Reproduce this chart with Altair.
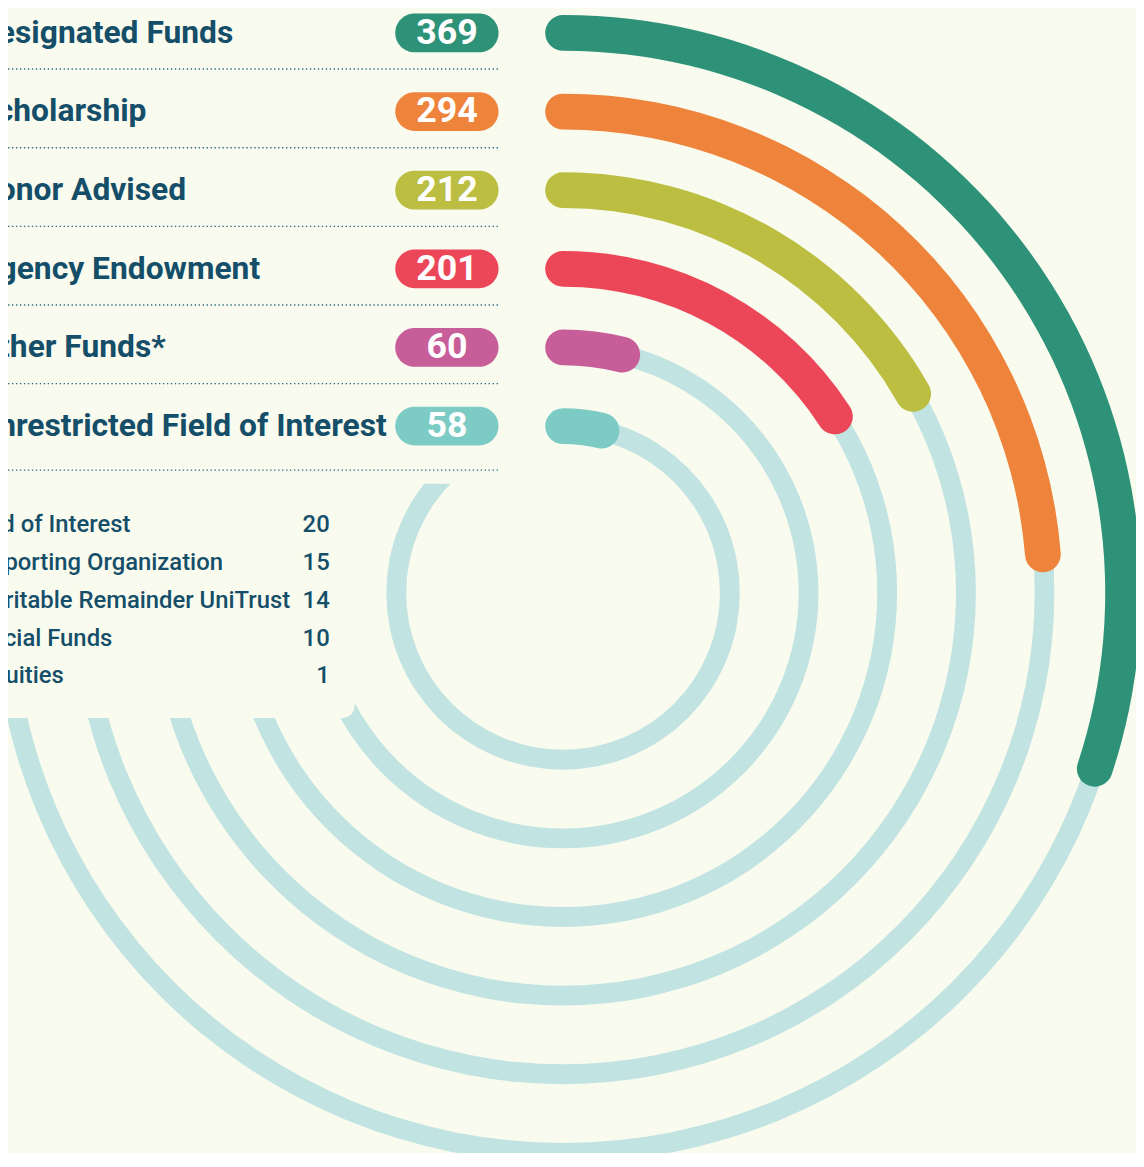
import math
import altair as alt
import pandas as pd

# ---------------- data (inner ring -> outer ring) ----------------
categories = ["Unrestricted Field of Interest", "Other Funds*", "Agency Endowment",
              "Donor Advised", "Scholarship", "Designated Funds"]
values = [58, 60, 201, 212, 294, 369]
bar_colors = ["#7DCBC5", "#C75E9A", "#EC4659", "#BBBE41", "#EE843B", "#2E9278"]

other_names = ["Field of Interest", "Supporting Organization",
               "Charitable Remainder UniTrust", "Special Funds", "Annuities"]
other_values = [20, 15, 14, 10, 1]

# ---------------- styling / layout constants ----------------
BG = "#F9FBEF"
TRACK = "#C1E3E1"
TEXT = "#154E69"
W, H = 1136, 1145
CX, CY = 559, 585            # centre of the rings
R0, STEP = 168, 79.2         # radius of innermost ring, ring spacing
BAR_HALF, TRACK_HALF = 18, 10
T_MIN, T_MAX = 14.25, 1193.45  # theta scale domain (one full turn)
K = (T_MAX - T_MIN) / (2 * math.pi)

theta_scale = alt.Scale(type="linear", domain=[T_MIN, T_MAX], range=[0, 2 * math.pi])
radius_scale = alt.Scale(type="linear", zero=False, domain=[0, 5], range=[R0, R0 + 5 * STEP])
row_scale = alt.Scale(type="linear", zero=False, domain=[0, 5], range=[CY - R0, CY - R0 - 5 * STEP])
sub_scale = alt.Scale(type="linear", zero=False, domain=[0, 4], range=[517, 669])

rows = []
for i, (c, v, col) in enumerate(zip(categories, values, bar_colors)):
    r = R0 + STEP * i
    cap = BAR_HALF / r * K
    rows.append({
        "rank": i, "category": c, "value": v, "color": col,
        "t0": T_MIN - cap, "t1": v + cap,
        "r_out": i + BAR_HALF / STEP, "r_in": i - BAR_HALF / STEP,
        "tr_out": i + TRACK_HALF / STEP, "tr_in": i - TRACK_HALF / STEP,
        "track_t0": T_MIN, "track_t1": T_MAX,
        "p_top": i + 19.5 / STEP, "p_bot": i - 19.5 / STEP,
        "div": i - (0.56 if i == 0 else 0.46),
    })
df = pd.DataFrame(rows)
sub = pd.DataFrame({"j": list(range(len(other_names))), "name": other_names, "val": other_values})
one = pd.DataFrame({"k": [0]})

center = dict(x=alt.value(CX), y=alt.value(CY))

tracks = alt.Chart(df).mark_arc(color=TRACK).encode(
    theta=alt.Theta("track_t0:Q", scale=theta_scale, stack=False),
    theta2="track_t1:Q",
    radius=alt.Radius("tr_out:Q", scale=radius_scale),
    radius2="tr_in:Q",
    **center,
)

cover_a = alt.Chart(one).mark_rect(color=BG).encode(
    x=alt.value(-8), x2=alt.value(CX), y=alt.value(-8), y2=alt.value(475))
cover_b = alt.Chart(one).mark_rect(color=BG, cornerRadius=12).encode(
    x=alt.value(-30), x2=alt.value(349), y=alt.value(440), y2=alt.value(711))

bars = alt.Chart(df).mark_arc(cornerRadius=BAR_HALF).encode(
    theta=alt.Theta("t0:Q", scale=theta_scale, stack=False),
    theta2="t1:Q",
    radius=alt.Radius("r_out:Q", scale=radius_scale),
    radius2="r_in:Q",
    color=alt.Color("color:N", scale=None),
    **center,
)

dividers = alt.Chart(df).mark_rule(color="#2D6C86", strokeWidth=1.4, strokeDash=[1.4, 2.6]).encode(
    y=alt.Y("div:Q", scale=row_scale, axis=None),
    x=alt.value(-8), x2=alt.value(495),
)

labels = alt.Chart(df).mark_text(
    align="left", baseline="middle", font="Roboto", fontSize=32,
    fontWeight="bold", color=TEXT,
).encode(
    y=alt.Y("rank:Q", scale=row_scale, axis=None),
    x=alt.value(-31),
    text="category:N",
)

pills = alt.Chart(df).mark_rect(cornerRadius=19.5).encode(
    y=alt.Y("p_top:Q", scale=row_scale, axis=None),
    y2="p_bot:Q",
    x=alt.value(390), x2=alt.value(494),
    color=alt.Color("color:N", scale=None),
)

pill_text = alt.Chart(df).mark_text(
    align="center", baseline="middle", font="Roboto", fontSize=36,
    fontWeight="bold", color="white",
).encode(
    y=alt.Y("rank:Q", scale=row_scale, axis=None),
    x=alt.value(442),
    text="value:Q",
)

sub_labels = alt.Chart(sub).mark_text(
    align="left", baseline="middle", font="Roboto", fontSize=24,
    fontWeight=500, color=TEXT,
).encode(
    y=alt.Y("j:Q", scale=sub_scale, axis=None),
    x=alt.value(-45),
    text="name:N",
)

sub_values = alt.Chart(sub).mark_text(
    align="right", baseline="middle", font="Roboto", fontSize=24,
    fontWeight=500, color=TEXT,
).encode(
    y=alt.Y("j:Q", scale=sub_scale, axis=None),
    x=alt.value(324),
    text="val:Q",
)

chart = alt.layer(
    tracks, cover_a, cover_b, bars, dividers, labels, pills, pill_text, sub_labels, sub_values
).resolve_scale(y="independent").properties(
    width=W, height=H, padding=0, autosize="none", background=BG,
).configure_view(stroke=None)

chart.save("out.html", embed_options={"renderer": "svg", "actions": False})
